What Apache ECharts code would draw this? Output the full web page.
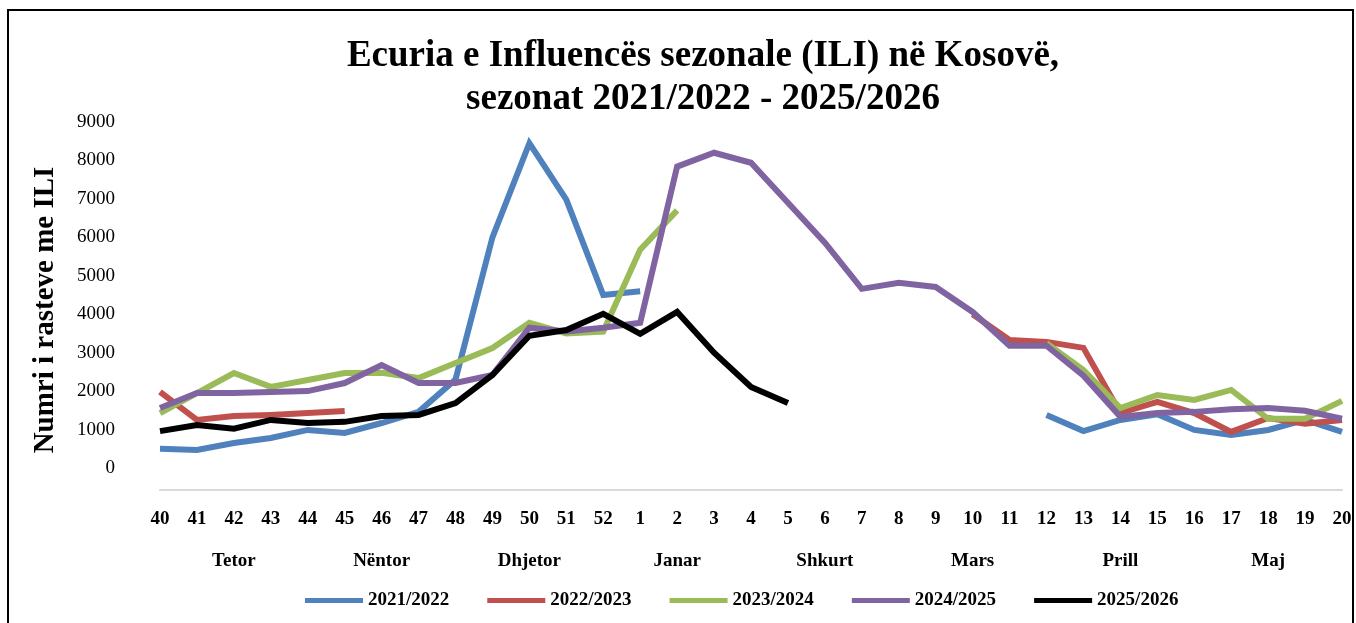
<!DOCTYPE html>
<html>
<head>
<meta charset="utf-8">
<title>ILI Kosovë</title>
<script src="https://cdn.jsdelivr.net/npm/echarts@6/dist/echarts.min.js"></script>
<style>
    html, body { margin: 0; padding: 0; background: #fff; overflow: hidden; }
    #frame { position: absolute; left: 7px; top: 9px; width: 1343px; height: 660px; border: 2px solid #000; }
    #main { position: absolute; left: 0; top: 0; width: 1356px; height: 623px; }
</style>
</head>
<body>
<div id="frame"></div>
<div id="main"></div>
<script>
// javët e sezonit (40 - 20)
var weeks = ['40', '41', '42', '43', '44', '45', '46', '47', '48', '49', '50', '51', '52',
    '1', '2', '3', '4', '5', '6', '7', '8', '9', '10', '11', '12', '13', '14', '15', '16', '17', '18', '19', '20'];
var months = ['Tetor', 'Nëntor', 'Dhjetor', 'Janar', 'Shkurt', 'Mars', 'Prill', 'Maj'];
var seasons = ['2021/2022', '2022/2023', '2023/2024', '2024/2025', '2025/2026'];
var yTicks = [0, 1000, 2000, 3000, 4000, 5000, 6000, 7000, 8000, 9000];

// vlerat e lexuara nga grafiku (null = nuk duket)
var s2122 = [500, 470, 650, 780, 990, 910, 1170, 1460, 2300, 6000, 8450, 6980, 4500,
    4600, null, null, null, null, null, null, null, null, null, null, 1380, 960, 1250, 1400, 990, 860, 990, 1250, 940];
var s2223 = [1980, 1250, 1350, 1380, 1430, 1480, null, null, null, null, null, null, null,
    null, null, null, null, null, null, null, null, null, 4000, 3330, 3280, 3125, 1430, 1720, 1430, 940, 1300, 1150, 1250];
var s2324 = [1430, 1950, 2470, 2110, 2290, 2470, 2480, 2340, 2730, 3120, 3780, 3500, 3550,
    5680, 6700, null, null, null, null, null, null, null, null, null, 3250, 2550, 1560, 1900, 1770, 2030, 1280, 1280, 1745];
var s2425 = [1560, 1950, 1950, 1980, 2000, 2210, 2680, 2210, 2210, 2420, 3650, 3550, 3650,
    3780, 7840, 8200, 7940, 6900, 5860, 4660, 4820, 4710, 4060, 3180, 3180, 2400, 1330, 1430, 1460, 1530, 1560, 1490, 1280];
var s2526 = [960, 1120, 1020, 1250, 1170, 1200, 1350, 1380, 1690, 2420, 3440, 3590, 4010,
    3490, 4060, 3000, 2110, 1690];

var colors = ['#4F81BD', '#C0504D', '#9BBB59', '#8064A2', '#000000'];
var seriesData = [s2122, s2223, s2324, s2425, s2526];

var font = 'Liberation Serif';

var myChart = echarts.init(document.getElementById('main'));

var series = [];
for (var i = 0; i < seasons.length; i++) {
    series.push({
        name: seasons[i],
        type: 'line',
        data: seriesData[i],
        showSymbol: false,
        connectNulls: false,
        lineStyle: { width: 6, color: colors[i], cap: 'butt', join: 'miter' },
        itemStyle: { color: colors[i] },
        z: 2 + i
    });
}

var option = {
    animation: false,
    title: {
        text: 'Ecuria e Influencës sezonale (ILI) në Kosovë,\nsezonat 2021/2022 - 2025/2026',
        left: 698,
        top: 30,
        textAlign: 'center',
        textStyle: { fontFamily: font, fontWeight: 'bold', fontSize: 37, lineHeight: 43, color: '#000' }
    },
    legend: {
        data: seasons,
        left: 300,
        bottom: 8,
        icon: 'rect',
        itemWidth: 58,
        itemHeight: 5,
        itemGap: 38,
        textStyle: { fontFamily: font, fontWeight: 'bold', fontSize: 19, color: '#000' }
    },
    grid: { left: 160, right: 14, top: 122, bottom: 155, containLabel: false },
    xAxis: [{
        type: 'category',
        data: weeks,
        boundaryGap: false,
        offset: 22,
        axisLine: { onZero: false, lineStyle: { color: '#d9d9d9', width: 2 } },
        axisTick: { show: false },
        axisLabel: { interval: 0, margin: 20, fontFamily: font, fontWeight: 'bold', fontSize: 19, color: '#000' }
    }, {
        type: 'category',
        data: months,
        position: 'bottom',
        boundaryGap: true,
        offset: 22,
        axisLine: { show: false, onZero: false },
        axisTick: { show: false },
        axisLabel: { interval: 0, margin: 62, fontFamily: font, fontWeight: 'bold', fontSize: 19, color: '#000' }
    }],
    yAxis: {
        type: 'value',
        min: yTicks[0],
        max: yTicks[yTicks.length - 1],
        interval: 1000,
        name: 'Numri i rasteve me ILI',
        nameLocation: 'middle',
        nameRotate: 90,
        nameGap: 100,
        nameTextStyle: { fontFamily: font, fontWeight: 'bold', fontSize: 29, color: '#000', padding: [0, 30, 0, 0] },
        axisLine: { show: false },
        axisTick: { show: false },
        splitLine: { show: false },
        axisLabel: {
            margin: 45,
            fontFamily: font,
            fontSize: 19,
            color: '#000',
            formatter: function (val) {
                return String(val);
            }
        }
    },
    series: series
};

myChart.setOption(option);
</script>
</body>
</html>
